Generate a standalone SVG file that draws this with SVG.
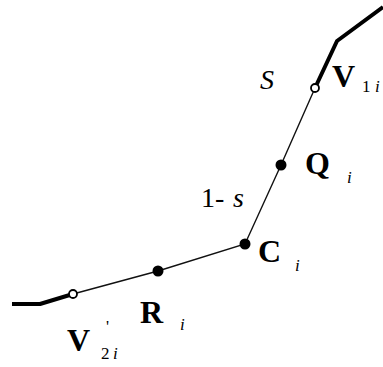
<svg xmlns="http://www.w3.org/2000/svg" width="383" height="367" viewBox="0 0 383 367">
<style>
.thick{fill:none;stroke:#000;stroke-width:4;stroke-linejoin:round}
.thin{fill:none;stroke:#111;stroke-width:1.4}
.open{fill:#fff;stroke:#000;stroke-width:1.8}
.dot{fill:#000}
.big{font-family:"Liberation Serif",serif;font-weight:bold;font-size:32px}
.sub{font-family:"Liberation Serif",serif;font-size:17px}
.it{font-style:italic}
.lab{font-family:"Liberation Serif",serif;font-size:28px}
</style>
<rect width="383" height="367" fill="#fff"/>
<g id="connectors">
<polyline class="thick" points="383,7 337,41 315,88"/>
<polyline class="thin" points="315,88 281,165 245,244 158,271 73,294"/>
<polyline class="thick" points="73,294 40,304 12,304"/>
</g>
<g id="V1">
<circle class="open" cx="315" cy="88" r="4"/>
<text class="big" x="332" y="87">V</text>
<text class="sub" x="362" y="92">1</text>
<text class="sub it" x="375" y="92">i</text>
</g>
<g id="Q">
<circle class="dot" cx="281" cy="165" r="5.5"/>
<text class="big" x="305" y="174">Q</text>
<text class="sub it" x="347" y="183">i</text>
</g>
<g id="C">
<circle class="dot" cx="245" cy="244" r="5.5"/>
<text class="big" x="258" y="262">C</text>
<text class="sub it" x="295" y="271">i</text>
</g>
<g id="R">
<circle class="dot" cx="158" cy="271" r="5.5"/>
<text class="big" x="140" y="323">R</text>
<text class="sub it" x="180" y="330">i</text>
</g>
<g id="V2">
<circle class="open" cx="73" cy="294" r="4"/>
<text class="big" x="67" y="351">V</text>
<text class="sub" x="106" y="332">'</text>
<text class="sub" x="101" y="359">2</text>
<text class="sub it" x="113" y="359">i</text>
</g>
<g id="labels">
<text class="lab it" x="260" y="89">S</text>
<text class="lab" x="201" y="207">1-</text>
<text class="lab it" x="233" y="207">s</text>
</g>
</svg>
